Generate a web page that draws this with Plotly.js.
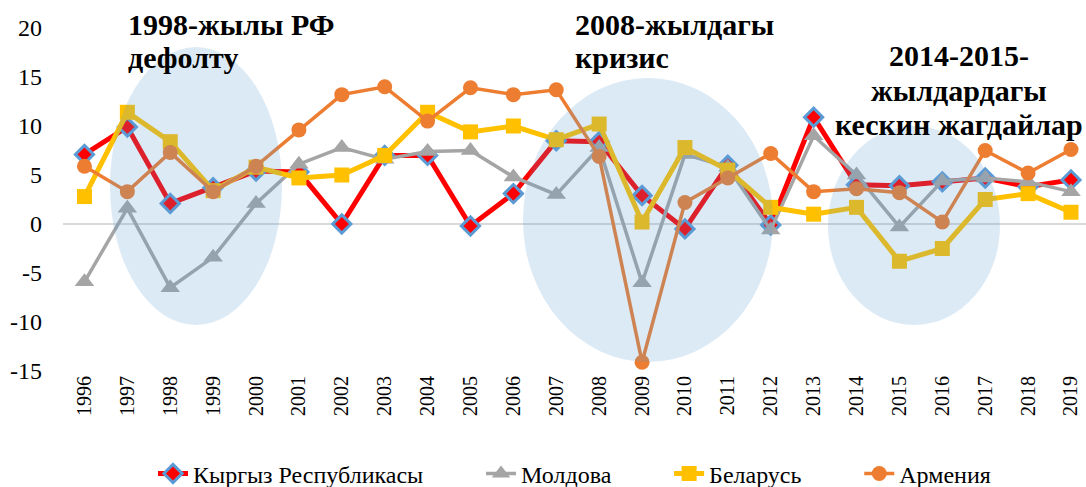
<!DOCTYPE html>
<html>
<head>
<meta charset="utf-8">
<script src="https://cdn.plot.ly/plotly-3.0.1.min.js"></script>
<style>html,body{margin:0;padding:0;background:#fff;}#chart{width:1086px;height:487px;}</style>
</head>
<body>
<div id="chart"></div>
<script>
var years = ['1996','1997','1998','1999','2000','2001','2002','2003','2004','2005','2006','2007','2008','2009','2010','2011','2012','2013','2014','2015','2016','2017','2018','2019'];
var kyrgyz  = [7.1, 9.9, 2.1, 3.7, 5.4, 5.3, 0.0, 7.0, 7.0, -0.2, 3.1, 8.5, 8.4, 2.9, -0.5, 6.0, -0.1, 10.9, 4.0, 3.9, 4.3, 4.7, 3.8, 4.5];
var moldova = [-5.9, 1.6, -6.5, -3.4, 2.1, 6.1, 7.8, 6.6, 7.4, 7.5, 4.8, 3.0, 7.8, -6.0, 7.1, 5.8, -0.6, 9.0, 5.0, -0.3, 4.4, 4.7, 4.3, 3.3];
var belarus = [2.8, 11.4, 8.4, 3.4, 5.8, 4.7, 5.0, 7.0, 11.4, 9.4, 10.0, 8.6, 10.2, 0.2, 7.8, 5.5, 1.7, 1.0, 1.7, -3.8, -2.5, 2.5, 3.1, 1.2];
var armenia = [5.9, 3.3, 7.3, 3.3, 5.9, 9.6, 13.2, 14.0, 10.5, 13.9, 13.2, 13.7, 6.9, -14.1, 2.2, 4.7, 7.2, 3.3, 3.6, 3.2, 0.2, 7.5, 5.2, 7.6];
var seriesNames = ['Кыргыз Республикасы', 'Молдова', 'Беларусь', 'Армения'];
var yTicks = [-15, -10, -5, 0, 5, 10, 15, 20];
var note1 = ['1998-жылы РФ', 'дефолту'];
var note2 = ['2008-жылдагы', 'кризис'];
var note3 = ['2014-2015-', 'жылдардагы', 'кескин жагдайлар'];

var W = 1086, H = 487, L = 63, R = 0, T = 28, B = 116;
var pw = W - L - R, ph = H - T - B;
function px(x){ return (x - L) / pw; }
function py(y){ return (H - B - y) / ph; }
var pad = '\u00a0\u00a0\u00a0\u00a0\u00a0\u00a0\u00a0\u00a0\u2009';

var traces = [
  {x: years, y: kyrgyz, name: seriesNames[0] + pad, type: 'scatter', mode: 'lines+markers',
   line: {color: '#ff0000', width: 5},
   marker: {symbol: 'diamond', size: 14, color: '#ff0000', line: {color: '#5b9bd5', width: 3}}},
  {x: years, y: moldova, name: seriesNames[1] + pad, type: 'scatter', mode: 'lines+markers',
   line: {color: '#a5a5a5', width: 3.5},
   marker: {symbol: 'triangle-up', size: 17, color: '#a5a5a5'}},
  {x: years, y: belarus, name: seriesNames[2] + pad, type: 'scatter', mode: 'lines+markers',
   line: {color: '#ffc000', width: 5},
   marker: {symbol: 'square', size: 15, color: '#ffc000'}},
  {x: years, y: armenia, name: seriesNames[3], type: 'scatter', mode: 'lines+markers',
   line: {color: '#ed7d31', width: 3.5},
   marker: {symbol: 'circle', size: 15, color: '#ed7d31'}}
];

var serif = '"Liberation Serif", serif';
var ellFill = 'rgba(91,155,213,0.21)';
var annFont = {family: serif, size: 30, color: '#000'};
function noteLine(txt, x, yc, anchor){
  return {text: '<b>' + txt + '</b>', xref: 'paper', yref: 'paper', x: px(x), y: py(yc),
          xanchor: anchor, yanchor: 'middle', align: anchor === 'center' ? 'center' : 'left',
          showarrow: false, font: annFont};
}
var annotations = [
  noteLine(note1[0], 126, 25, 'left'), noteLine(note1[1], 126, 58, 'left'),
  noteLine(note2[0], 573, 25, 'left'), noteLine(note2[1], 573, 58, 'left'),
  noteLine(note3[0], 959, 56, 'center'), noteLine(note3[1], 959, 90, 'center'), noteLine(note3[2], 959, 124, 'center')
];

var layout = {
  width: W, height: H,
  margin: {l: L, r: R, t: T, b: B, pad: 0},
  paper_bgcolor: '#ffffff', plot_bgcolor: '#ffffff',
  font: {family: serif, color: '#000', size: 20},
  showlegend: true,
  legend: {orientation: 'h', x: 153 / W, xanchor: 'left', xref: 'container', y: 0.027, yanchor: 'middle', yref: 'container',
           font: {family: serif, size: 24, color: '#000'}, tracegroupgap: 0, traceorder: 'normal'},
  xaxis: {type: 'category', range: [-0.5, 23.35], showgrid: false, zeroline: false, showline: false,
          tickangle: -90, tickfont: {family: serif, size: 20, color: '#000'}, ticks: '', ticklen: 0, automargin: false},
  yaxis: {range: [-15, 20], tickvals: yTicks, ticktext: yTicks.map(String), showgrid: false, showline: false,
          zeroline: true, zerolinecolor: '#d9d9d9', zerolinewidth: 2,
          tickfont: {family: serif, size: 24, color: '#000'}, ticks: '', ticklabelstandoff: 20, automargin: false},
  shapes: [
    {type: 'circle', xref: 'paper', yref: 'paper', x0: px(110), x1: px(282), y0: py(325), y1: py(47), fillcolor: ellFill, line: {width: 0}, layer: 'above'},
    {type: 'circle', xref: 'paper', yref: 'paper', x0: px(523), x1: px(773), y0: py(362), y1: py(78), fillcolor: ellFill, line: {width: 0}, layer: 'above'},
    {type: 'circle', xref: 'paper', yref: 'paper', x0: px(828), x1: px(1000), y0: py(325), y1: py(126), fillcolor: ellFill, line: {width: 0}, layer: 'above'}
  ],
  annotations: annotations
};

Plotly.newPlot('chart', traces, layout, {displayModeBar: false, staticPlot: true});
</script>
</body>
</html>
